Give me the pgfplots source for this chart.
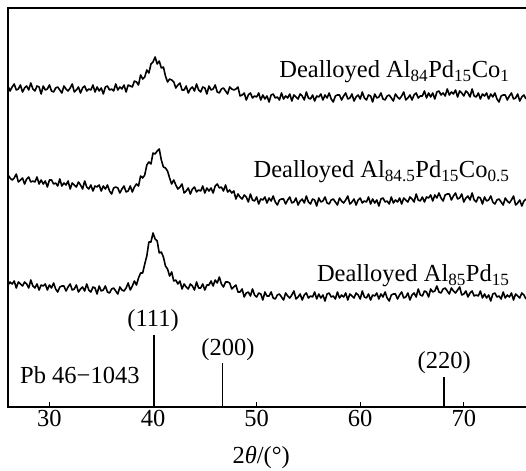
\documentclass[border=0pt]{standalone}
\usepackage{fontspec}
\setmainfont{Liberation Serif}
\usepackage{pgfplots}
\usepackage{pgfplotstable}
\pgfplotsset{compat=1.18}

% XRD patterns: 2theta, then intensities (offset) of the three dealloyed samples
\pgfplotstableread{
x top mid bot
26.0 321 232 122
26.2 316 229 125
26.4 320 227 123
26.6 323 229 126
26.8 317 233 119
27.0 318 225 125
27.2 322 227 123
27.4 315 229 121
27.6 319 223 125
27.8 321 228 123
28.0 317 230 119
28.2 324 225 127
28.4 318 226 121
28.6 316 225 119
28.8 321 230 123
29.0 320 223 117
29.2 313 227 122
29.4 321 223 121
29.6 317 226 123
29.8 318 220 117
30.0 322 227 122
30.2 316 227 119
30.4 315 223 124
30.6 319 224 118
30.8 320 221 115
31.0 317 228 120
31.2 314 221 121
31.4 321 224 121
31.6 318 222 116
31.8 316 226 120
32.0 319 218 123
32.2 323 224 117
32.4 315 222 118
32.6 317 220 122
32.8 320 225 115
33.0 314 222 118
33.2 319 218 120
33.4 321 226 116
33.6 316 220 123
33.8 318 218 117
34.0 317 222 115
34.2 322 216 120
34.4 315 221 119
34.6 320 220 113
34.8 316 222 121
35.0 319 216 116
35.2 313 221 117
35.4 320 218 121
35.6 321 222 115
35.8 317 216 114
36.0 318 213 118
36.2 316 219 119
36.4 323 220 116
36.6 317 219 113
36.8 320 214 120
37.0 318 218 117
37.2 322 221 116
37.4 315 215 119
37.6 322 216 124
37.8 321 221 117
38.0 320 215 121
38.2 326 220 126
38.4 325 223 122
38.6 322 221 129
38.8 332 231 134
39.0 328 229 134
39.2 330 232 143
39.4 337 242 151
39.6 334 245 165
39.8 343 243 165
40.0 345 254 174
40.2 350 253 168
40.4 343 256 166
40.6 346 258 154
40.8 339 247 155
41.0 340 240 150
41.2 331 239 141
41.4 325 236 138
41.6 328 229 131
41.8 327 223 135
42.0 325 227 126
42.2 319 222 127
42.4 322 218 123
42.6 324 220 126
42.8 317 223 118
43.0 317 214 123
43.2 321 216 120
43.4 314 219 118
43.6 318 213 123
43.8 320 218 121
44.0 316 220 117
44.2 323 215 125
44.4 317 217 119
44.6 315 216 119
44.8 320 221 123
45.0 319 214 117
45.2 313 219 122
45.4 321 216 122
45.6 317 219 126
45.8 318 214 121
46.0 322 221 127
46.2 315 223 124
46.4 314 219 130
46.6 318 220 123
46.8 319 216 120
47.0 316 222 125
47.2 313 215 125
47.4 320 217 124
47.6 318 214 118
47.8 317 216 120
48.0 318 208 122
48.2 320 213 115
48.4 311 210 115
48.6 312 208 118
48.8 314 212 110
49.0 307 210 114
49.2 312 205 115
49.4 314 213 111
49.6 309 207 118
49.8 311 206 112
50.0 310 210 110
50.2 314 203 114
50.4 307 208 113
50.6 312 207 107
50.8 308 210 115
51.0 311 204 111
51.2 305 209 111
51.4 312 206 115
51.6 313 211 109
51.8 309 205 108
52.0 310 202 112
52.2 307 207 113
52.4 314 208 110
52.6 308 208 107
52.8 311 203 114
53.0 309 207 111
53.2 313 210 109
53.4 306 204 112
53.6 312 205 116
53.8 310 209 108
54.0 308 202 110
54.2 313 206 113
54.4 311 208 107
54.6 307 204 112
54.8 315 211 114
55.0 309 205 109
55.2 308 203 111
55.4 312 208 110
55.6 306 207 115
55.8 311 201 108
56.0 310 209 113
56.2 313 205 109
56.4 307 206 112
56.6 312 210 106
56.8 309 204 113
57.0 314 203 114
57.2 308 207 110
57.4 305 208 111
57.6 311 205 108
57.8 312 202 115
58.0 312 209 109
58.2 307 206 112
58.4 311 204 110
58.6 314 207 114
58.8 308 211 107
59.0 309 203 113
59.2 313 205 111
59.4 306 208 109
59.6 310 202 114
59.8 312 207 112
60.0 308 209 108
60.2 315 204 116
60.4 309 206 110
60.6 307 205 109
60.8 312 210 113
61.0 311 203 107
61.2 305 208 112
61.4 313 204 111
61.6 309 207 114
61.8 310 201 108
62.0 314 208 113
62.2 308 209 110
62.4 307 205 115
62.6 311 206 109
62.8 312 203 106
63.0 309 210 112
63.2 306 204 113
63.4 313 207 113
63.6 310 205 108
63.8 308 209 112
64.0 311 203 115
64.2 315 209 109
64.4 307 207 110
64.6 309 205 114
64.8 312 210 107
65.0 307 208 112
65.2 312 205 114
65.4 314 213 110
65.6 309 207 118
65.8 311 206 112
66.0 311 210 111
66.2 316 205 116
66.4 309 210 115
66.6 314 209 110
66.8 310 212 118
67.0 314 206 115
67.2 308 212 116
67.4 315 209 121
67.6 316 214 115
67.8 312 209 114
68.0 314 206 118
68.2 311 212 119
68.4 318 213 116
68.6 312 213 113
68.8 315 207 119
69.0 313 211 116
69.2 317 214 114
69.4 310 208 117
69.6 316 209 120
69.8 314 213 112
70.0 311 205 113
70.2 316 209 116
70.4 314 211 110
70.6 310 207 114
70.8 318 214 116
71.0 311 207 111
71.2 310 205 112
71.4 314 210 111
71.6 308 209 116
71.8 313 203 109
72.0 311 210 113
72.2 314 206 109
72.4 308 207 112
72.6 313 211 106
72.8 310 205 113
73.0 314 203 114
73.2 308 207 110
73.4 305 208 111
73.6 311 205 108
73.8 312 202 115
74.0 312 209 109
74.2 307 206 112
74.4 311 204 110
74.6 314 207 114
74.8 308 211 107
75.0 309 202 113
75.2 313 204 111
75.4 306 207 109
75.6 310 201 114
75.8 312 206 112
76.0 308 208 108
}\xrd

\begin{document}
\begin{tikzpicture}[font=\fontsize{24.5}{28}\selectfont]
\useasboundingbox (-8pt,-63pt) rectangle (518pt,407pt);
\begin{axis}[
  at={(0,0)}, anchor=south west,
  scale only axis, width=522pt, height=399pt,
  xmin=26, xmax=76.39, ymin=0, ymax=399,
  xtick={30,40,50,60,70}, ytick=\empty,
  xtick pos=left, tick align=inside,
  major tick length=5pt,
  tick style={line width=0.8pt, black},
  axis line style={line width=1.1pt, black},
  /pgf/number format/assume math mode=true,
  xlabel={2\textit{θ}/(°)},
  xlabel style={at={(ticklabel cs:0.485)}, anchor=north, yshift=-12pt},
  clip=false,
]
\addplot[black, line width=1.6pt, line join=round] table[x=x, y=top] {\xrd};
\addplot[black, line width=1.6pt, line join=round] table[x=x, y=mid] {\xrd};
\addplot[black, line width=1.6pt, line join=round] table[x=x, y=bot] {\xrd};
% Pd standard pattern (PDF 46-1043)
\addplot[black, line width=1.8pt, ycomb, mark=none] coordinates {(40.1,72) (46.7,44) (68.1,30)};
% frame: top and left spines
\draw[line width=1.1pt] (rel axis cs:1,1) -- (rel axis cs:0,1) -- (rel axis cs:0,0);

\node[anchor=base east] at (axis cs:74.75,329) {Dealloyed Al\textsubscript{84}Pd\textsubscript{15}Co\textsubscript{1}};
\node[anchor=base east] at (axis cs:74.75,229) {Dealloyed Al\textsubscript{84.5}Pd\textsubscript{15}Co\textsubscript{0.5}};
\node[anchor=base east] at (axis cs:74.75,125) {Dealloyed Al\textsubscript{85}Pd\textsubscript{15}};
\node[anchor=base] at (axis cs:40.0,80) {(111)};
\node[anchor=base] at (axis cs:47.24,52) {(200)};
\node[anchor=base] at (axis cs:68.1,39) {(220)};
\node[anchor=base west, inner sep=0pt] at (axis cs:27.16,24) {Pb 46−1043};
\end{axis}
\end{tikzpicture}
\end{document}
